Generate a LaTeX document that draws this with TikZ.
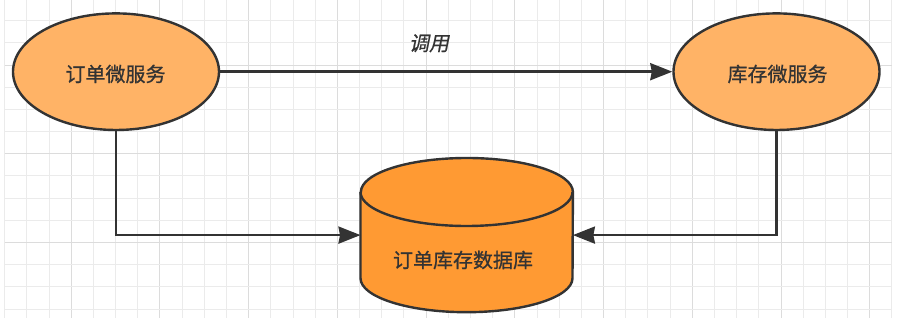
\documentclass[tikz,border=0pt]{standalone}
\usepackage{fontspec}
\usetikzlibrary{shapes.geometric,arrows.meta}
\newfontfamily\cjk[FakeBold=0.8]{Noto Sans CJK SC}
\newfontfamily\cjkit[FakeSlant=0.2,FakeBold=0.6]{Noto Sans CJK SC}
\definecolor{gridlight}{HTML}{EBEBEB}
\definecolor{griddark}{HTML}{DCDCDC}
\definecolor{svcfill}{HTML}{FFB366}
\definecolor{dbfill}{HTML}{FF9A33}
\definecolor{edge}{HTML}{333333}
\definecolor{ink}{HTML}{333333}
\tikzset{
  service/.style={ellipse, draw=edge, line width=2.4pt, fill=svcfill,
    minimum width=206pt, minimum height=116.6pt, inner sep=0pt},
  label/.style={text=ink, font=\cjk\fontsize{20}{24}\selectfont, inner sep=0pt},
  flow/.style={draw=edge, line width=2.6pt,
    -{Stealth[length=22pt,width=17pt,inset=1.5pt]}},
  cyl/.style={fill=dbfill, draw=edge, line width=2.4pt, line join=round}
}
\begin{document}
\begin{tikzpicture}[x=1pt,y=1pt]
  \clip (0,0) rectangle (903,318);
  \fill[white] (0,0) rectangle (903,318);
  % background grid, every fourth line darker
  \foreach \k in {0,...,40}{
    \pgfmathtruncatemacro{\m}{mod(\k,4)}
    \ifnum\m=3
      \draw[griddark, line width=1pt] ({4.7+22.18*\k},0) -- ({4.7+22.18*\k},318);
    \else
      \draw[gridlight, line width=1pt] ({4.7+22.18*\k},0) -- ({4.7+22.18*\k},318);
    \fi
  }
  \foreach \j in {0,...,13}{
    \pgfmathtruncatemacro{\m}{mod(\j,4)}
    \ifnum\m=2
      \draw[griddark, line width=1pt] (4.7,{297.3-22.18*\j}) -- (892,{297.3-22.18*\j});
    \else
      \draw[gridlight, line width=1pt] (4.7,{297.3-22.18*\j}) -- (892,{297.3-22.18*\j});
    \fi
  }

  % services
  \node[service] (ord) at (116,246.3) {};
  \node[service] (inv) at (776.5,246.3) {};
  \node[label] (ordtxt) at (115.5,244) {订单微服务};
  \node[label] (invtxt) at (777.5,244) {库存微服务};

  % database cylinder
  \node[minimum width=212pt, minimum height=85.8pt, inner sep=0pt] (db) at (466.7,82.9) {};
  \path[cyl] (db.north west) -- (db.south west)
    arc[start angle=180, end angle=360, x radius=106, y radius=34]
    -- (db.north east)
    arc[start angle=0, end angle=180, x radius=106, y radius=34] -- cycle;
  \draw[edge, line width=2.4pt] (db.north west)
    arc[start angle=180, end angle=360, x radius=106, y radius=34];
  \node[label] (dbtxt) at (463,58) {订单库存数据库};

  % connectors
  \draw[flow] (ord.east) -- (inv.west);
  \node[text=ink, font=\cjkit\fontsize{20}{24}\selectfont, inner sep=0pt] (call) at (429,274.7) {调用};
  \draw[flow] (ord.south) |- (db.west);
  \draw[flow] (inv.south) |- (db.east);
\end{tikzpicture}
\end{document}
